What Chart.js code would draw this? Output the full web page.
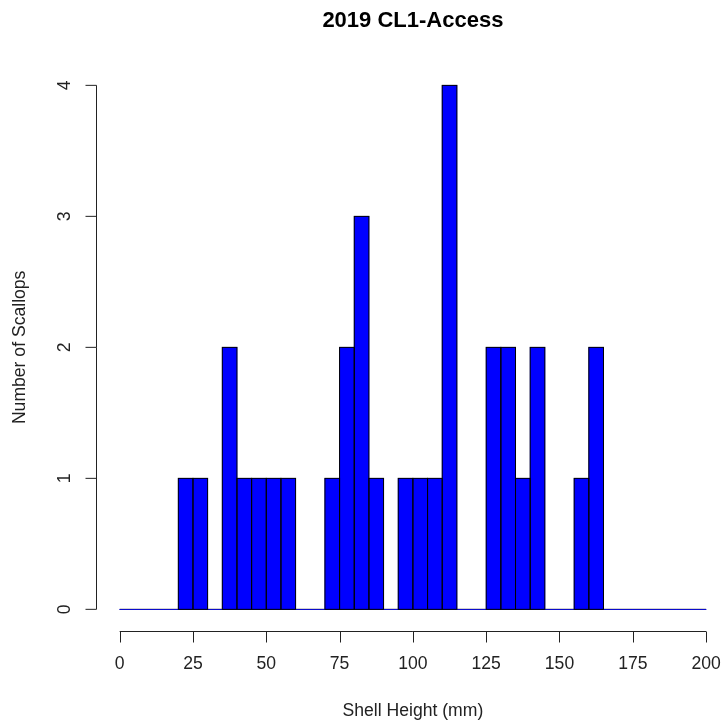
<!DOCTYPE html>
<html>
<head>
<meta charset="utf-8">
<title>2019 CL1-Access</title>
<script src="https://cdn.jsdelivr.net/npm/chart.js@4.4.1/dist/chart.umd.min.js"></script>
<style>
  html, body { margin: 0; padding: 0; background: #fff; }
  canvas { display: block; }
</style>
</head>
<body>
<canvas id="grafica" width="724" height="721"></canvas>
<script>
// Datos del histograma (clases de 5 mm)
const limitesInferiores = [0, 5, 10, 15, 20, 25, 30, 35, 40, 45, 50, 55, 60, 65, 70, 75, 80, 85, 90, 95,
  100, 105, 110, 115, 120, 125, 130, 135, 140, 145, 150, 155, 160, 165, 170, 175, 180, 185, 190, 195];
const conteos = [0, 0, 0, 0, 1, 1, 0, 2, 1, 1, 1, 1, 0, 0, 1, 2, 3, 1, 0, 1,
  1, 1, 4, 0, 0, 2, 2, 1, 2, 0, 0, 1, 2, 0, 0, 0, 0, 0, 0, 0];
const anchoClase = 5;
const ticksX = [0, 25, 50, 75, 100, 125, 150, 175, 200];
const ticksY = [0, 1, 2, 3, 4];
const tituloGrafica = '2019 CL1-Access';
const tituloX = 'Shell Height (mm)';
const tituloY = 'Number of Scallops';

const fuente = '"Liberation Sans", Arial, sans-serif';
Chart.defaults.font.family = fuente;

// Ejes al estilo de R (separados del área de dibujo)
const ejesR = {
  id: 'ejesR',
  afterDatasetsDraw(chart) {
    const ctx = chart.ctx;
    const meta = chart.getDatasetMeta(0);
    ctx.save();
    ctx.strokeStyle = '#000';
    ctx.lineWidth = 1;
    meta.data.forEach((barra, i) => {
      if (!conteos[i]) return;
      const p = barra.getProps(['x', 'y', 'base', 'width'], true);
      ctx.strokeRect(p.x - p.width / 2, p.y, p.width, p.base - p.y);
    });
    ctx.restore();
  },
  afterDraw(chart) {
    const ctx = chart.ctx;
    const ex = chart.scales.x, ey = chart.scales.y;
    const area = chart.chartArea;
    const xEje = Math.floor(area.left) + 0.5;
    const yEje = Math.floor(area.bottom) + 1.5;
    ctx.save();
    ctx.strokeStyle = '#222';
    ctx.lineWidth = 1;

    // eje Y
    ctx.beginPath();
    ctx.moveTo(xEje, ey.getPixelForValue(ticksY[0]));
    ctx.lineTo(xEje, ey.getPixelForValue(ticksY[ticksY.length - 1]));
    ticksY.forEach(v => {
      const py = ey.getPixelForValue(v);
      ctx.moveTo(xEje, py);
      ctx.lineTo(xEje - 11, py);
    });
    // eje X
    ctx.moveTo(ex.getPixelForValue(ticksX[0]), yEje);
    ctx.lineTo(ex.getPixelForValue(ticksX[ticksX.length - 1]), yEje);
    ticksX.forEach(v => {
      const px = Math.round(ex.getPixelForValue(v)) + 0.5;
      ctx.moveTo(px, yEje);
      ctx.lineTo(px, yEje + 11);
    });
    ctx.stroke();

    // etiquetas del eje Y (giradas como en R)
    ctx.fillStyle = '#222';
    ctx.font = '17.6px ' + fuente;
    ctx.textAlign = 'center';
    ctx.textBaseline = 'alphabetic';
    ticksY.forEach(v => {
      ctx.save();
      ctx.translate(69.5, ey.getPixelForValue(v));
      ctx.rotate(-Math.PI / 2);
      ctx.fillText(String(v), 0, 0);
      ctx.restore();
    });

    // títulos
    ctx.save();
    ctx.translate(24.5, (area.top + area.bottom) / 2);
    ctx.rotate(-Math.PI / 2);
    ctx.fillText(tituloY, 0, 0);
    ctx.restore();

    ctx.fillText(tituloX, ex.getPixelForValue(100), 716);

    ctx.fillStyle = '#000';
    ctx.font = 'bold 22px ' + fuente;
    ctx.fillText(tituloGrafica, ex.getPixelForValue(100), 26.7);
    ctx.restore();
  }
};

const datosBarras = limitesInferiores.map((li, i) => ({ x: li + anchoClase / 2, y: conteos[i] }));
const lineaBase = [
  { x: limitesInferiores[0], y: 0 },
  { x: limitesInferiores[limitesInferiores.length - 1] + anchoClase, y: 0 }
];

new Chart(document.getElementById('grafica').getContext('2d'), {
  type: 'bar',
  data: {
    datasets: [{
      label: 'Scallops',
      data: datosBarras,
      backgroundColor: '#0000ff',
      borderWidth: 0,
      barPercentage: 1,
      categoryPercentage: 1,
      order: 1
    }, {
      type: 'line',
      data: lineaBase,
      borderColor: '#000',
      borderWidth: 1,
      pointRadius: 0,
      order: 2
    }]
  },
  options: {
    responsive: false,
    animation: false,
    events: [],
    layout: { padding: { top: 64.4, left: 0, right: 0, bottom: 0 } },
    plugins: { legend: { display: false }, tooltip: { enabled: false } },
    scales: {
      x: {
        type: 'linear',
        offset: false,
        min: -8,
        max: 206.1,
        grid: { display: false, drawTicks: false },
        border: { display: false },
        ticks: {
          color: '#222',
          font: { size: 17.6 },
          padding: 23,
          maxRotation: 0,
          autoSkip: false
        },
        afterBuildTicks(scale) {
          scale.ticks = ticksX.map(v => ({ value: v }));
        },
        afterFit(scale) {
          scale.height = 721 - 630.3;
          scale.paddingLeft = 0;
          scale.paddingRight = 0;
        }
      },
      y: {
        min: -0.16,
        max: 4.16,
        grid: { display: false, drawTicks: false },
        border: { display: false },
        ticks: { display: false },
        afterFit(scale) {
          scale.width = 96.2;
          scale.paddingTop = 0;
          scale.paddingBottom = 0;
        }
      }
    }
  },
  plugins: [ejesR]
});
</script>
</body>
</html>
